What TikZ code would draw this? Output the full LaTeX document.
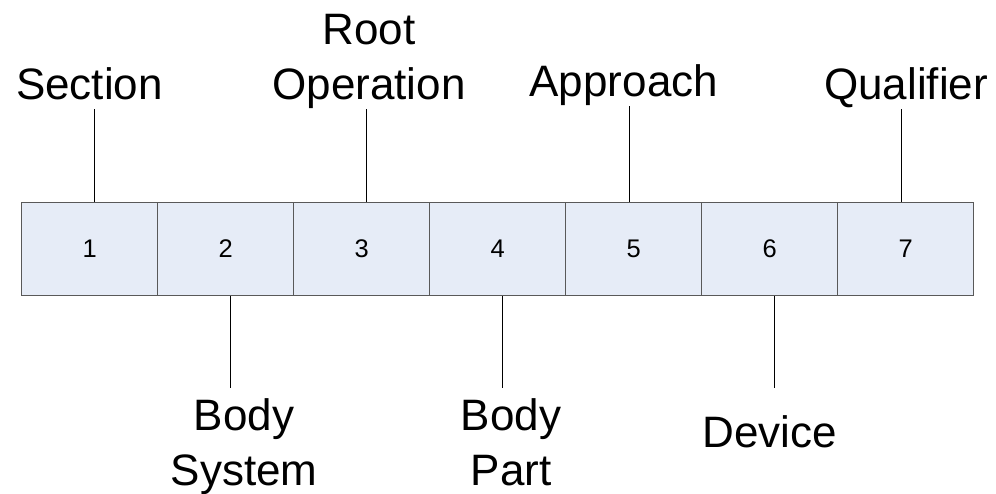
\documentclass[tikz,border=0pt]{standalone}
\usepackage{fontspec}
\setmainfont{Liberation Sans}
\usetikzlibrary{positioning}
\definecolor{cellfill}{HTML}{E6ECF7}
\definecolor{celledge}{HTML}{595959}
\newcommand{\tagfont}{\fontsize{44}{55}\selectfont}
\newcommand{\digitfont}{\fontsize{25.5}{30}\selectfont}
\begin{document}
\begin{tikzpicture}[x=1pt, y=1pt, node distance=136pt]
        \tikzstyle{cell}=[rectangle, draw=celledge, fill=cellfill, line width=1.2pt, minimum width=136pt, minimum height=93.2pt, inner sep=0pt, font=\digitfont]
        \tikzstyle{tag}=[inner sep=0pt, align=center, font=\tagfont]
        \tikzstyle{toptag}=[tag, text depth=9.3pt, anchor=south]
        \tikzstyle{bottag}=[tag, inner ysep=10.4pt, anchor=north]
        \tikzstyle{leader}=[line width=1pt]

        \useasboundingbox (0,0) rectangle (996,494);

        \node[cell] (c1) at (89.7,244.9) {1};
        \node[cell, right of=c1] (c2) {2};
        \node[cell, right of=c2] (c3) {3};
        \node[cell, right of=c3] (c4) {4};
        \node[cell, right of=c4] (c5) {5};
        \node[cell, right of=c5] (c6) {6};
        \node[cell, right of=c6] (c7) {7};

        % labels above the row
        \node[toptag] (section) at (89.5,384.7) {Section};
        \node[tag, anchor=south] (rootop) at (369,384.7) {Root\\Operation};
        \node[toptag] (approach) at (623.8,388.2) {Approach};
        \node[toptag] (qualifier) at (906,385.2) {Qualifier};

        % labels below the row
        \node[bottag] (bodysys) at (244,105.7) {Body\\System};
        \node[bottag] (bodypart) at (511,105.7) {Body\\Part};
        \node[bottag, inner ysep=27pt] (device) at (770,105.7) {Device};

        \draw[leader] ([xshift=4.6pt]c1.north) -- ([xshift=4.6pt]c1.north |- section.south);
        \draw[leader] ([xshift=4.6pt]c3.north) -- ([xshift=4.6pt]c3.north |- rootop.south);
        \draw[leader] ([xshift=-4.4pt]c5.north) -- ([xshift=-4.4pt]c5.north |- approach.south);
        \draw[leader] ([xshift=-4.4pt]c7.north) -- ([xshift=-4.4pt]c7.north |- qualifier.south);
        \draw[leader] ([xshift=4.4pt]c2.south) -- ([xshift=4.4pt]c2.south |- bodysys.north);
        \draw[leader] ([xshift=4.6pt]c4.south) -- ([xshift=4.6pt]c4.south |- bodypart.north);
        \draw[leader] ([xshift=4.6pt]c6.south) -- ([xshift=4.6pt]c6.south |- device.north);
    \end{tikzpicture}
\end{document}
